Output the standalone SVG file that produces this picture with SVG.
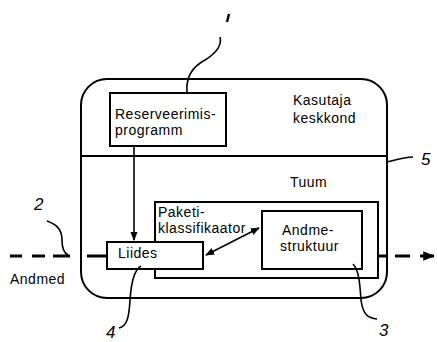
<svg xmlns="http://www.w3.org/2000/svg" width="437" height="342" viewBox="0 0 437 342">
<defs>
<style>
.t{font-family:"Liberation Sans",Arial,sans-serif;font-size:14px;letter-spacing:0.5px;fill:#000}
.h{font-family:"Liberation Sans",Arial,sans-serif;font-size:17px;font-style:italic;fill:#000}
.b{fill:#fff;stroke:#000;stroke-width:2}
.l{fill:none;stroke:#000;stroke-width:1.6}
.d{fill:none;stroke:#000;stroke-width:3}
</style>
<marker id="ah" viewBox="0 0 10 10" refX="9" refY="5" markerWidth="9" markerHeight="9" markerUnits="userSpaceOnUse" orient="auto-start-reverse">
<path d="M0,1 L10,5 L0,9 Z" fill="#000"/>
</marker>
<marker id="ah2" viewBox="0 0 10 10" refX="9" refY="5" markerWidth="12" markerHeight="12" markerUnits="userSpaceOnUse" orient="auto">
<path d="M0,1 L10,5 L0,9 Z" fill="#000"/>
</marker>
</defs>
<rect width="437" height="342" fill="#fff"/>
<g id="system">
<rect x="81" y="79" width="306" height="219" rx="26" ry="26" class="b"/>
<line x1="81" y1="156" x2="387" y2="156" stroke="#000" stroke-width="2"/>
<text x="293" y="105" class="t">Kasutaja</text>
<text x="293" y="123" class="t">keskkond</text>
<text x="290" y="187" class="t">Tuum</text>
</g>
<g id="connectors">
<path d="M10,256 H22 M32,256 H45 M53,256 H70 M87,256 H107" class="d"/>
<path d="M378,256 H386 M395,256 H410" class="d"/>
<path d="M420,256 H434" class="d" marker-end="url(#ah2)"/>
<line x1="134" y1="146" x2="134" y2="240" class="l" marker-end="url(#ah)"/>
</g>
<g id="paketiklassifikaator">
<rect x="155" y="202" width="223" height="76" class="b"/>
<text x="158" y="217" class="t">Paketi-</text>
<text x="158" y="233" class="t">klassifikaator</text>
</g>
<g id="reserveerimisprogramm">
<rect x="110" y="93" width="116" height="53" class="b"/>
<text x="115" y="119" class="t">Reserveerimis-</text>
<text x="115" y="135" class="t">programm</text>
</g>
<g id="liides">
<rect x="107" y="242" width="96" height="27" class="b"/>
<text x="118" y="258" class="t">Liides</text>
</g>
<g id="andmestruktuur">
<rect x="262" y="211" width="100" height="58" class="b"/>
<text x="282" y="235" class="t">Andme-</text>
<text x="280" y="251" class="t">struktuur</text>
</g>
<g id="bidir">
<line x1="206" y1="255" x2="259" y2="228" class="l" stroke-width="2" marker-start="url(#ah)" marker-end="url(#ah)"/>
</g>
<g id="labels">
<path d="M187,92 C186,80 190,68 205,60 C218,52 222,45 220,37" class="l"/>
<path d="M229,14 L227,22" stroke="#000" stroke-width="2.5" fill="none"/>
<path d="M387,162 C395,160 405,157 413,157" class="l"/>
<text x="421" y="165" class="h">5</text>
<path d="M47,221 C55,224 62,228 62,240 C62,248 64,253 68,255" class="l"/>
<text x="34" y="210" class="h">2</text>
<text x="10" y="284" class="t">Andmed</text>
<path d="M141,266 C134,270 131,285 130,300 C129,318 127,326 119,328" class="l"/>
<text x="106" y="338" class="h">4</text>
<path d="M353,264 C359,270 360,285 361,300 C363,315 368,318 377,319" class="l"/>
<text x="379" y="336" class="h">3</text>
</g>
</svg>
